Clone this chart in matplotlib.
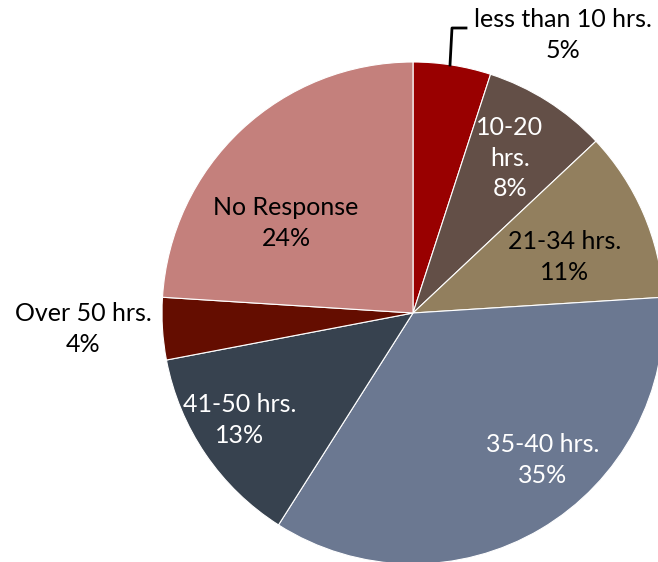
import matplotlib.pyplot as plt

# datos del gráfico
categorias = ["less than 10 hrs.", "10-20\nhrs.", "21-34 hrs.", "35-40 hrs.",
              "41-50 hrs.", "Over 50 hrs.", "No Response"]
porcentajes = [5, 8, 11, 35, 13, 4, 24]
colores = ["#990000", "#634f47", "#927f5e", "#6b7891",
           "#37424f", "#640d00", "#c4807c"]
color_texto = ["black", "white", "black", "white", "white", "black", "black"]

# posiciones de las etiquetas (pixeles, origen arriba a la izquierda)
pos_etiquetas = [(563, 35), (510, 158), (565, 257), (543, 460),
                 (240, 420), (83, 329), (286, 223)]

W, H = 658, 562
fig = plt.figure(figsize=(W / 100, H / 100), dpi=100)
ax = fig.add_axes([0, 0, 1, 1])

cx, cy, r = 413, H - 313, 251
ax.pie(porcentajes, colors=colores, startangle=90, counterclock=False,
       center=(cx, cy), radius=r, frame=True,
       wedgeprops=dict(edgecolor="white", linewidth=0.8))
ax.set_xlim(0, W)
ax.set_ylim(0, H)
ax.set_aspect("equal")
ax.axis("off")

for cat, p, (x, y), c in zip(categorias, porcentajes, pos_etiquetas, color_texto):
    ax.text(x, H - y, f"{cat}\n{p}%", ha="center", va="center",
            fontsize=18, family="Lato", color=c, linespacing=1.4)

# línea guía de la etiqueta pequeña
ax.plot([450, 452, 466], [H - 65, H - 28, H - 28], color="black", lw=2)

fig.savefig("out.png", dpi=100)
